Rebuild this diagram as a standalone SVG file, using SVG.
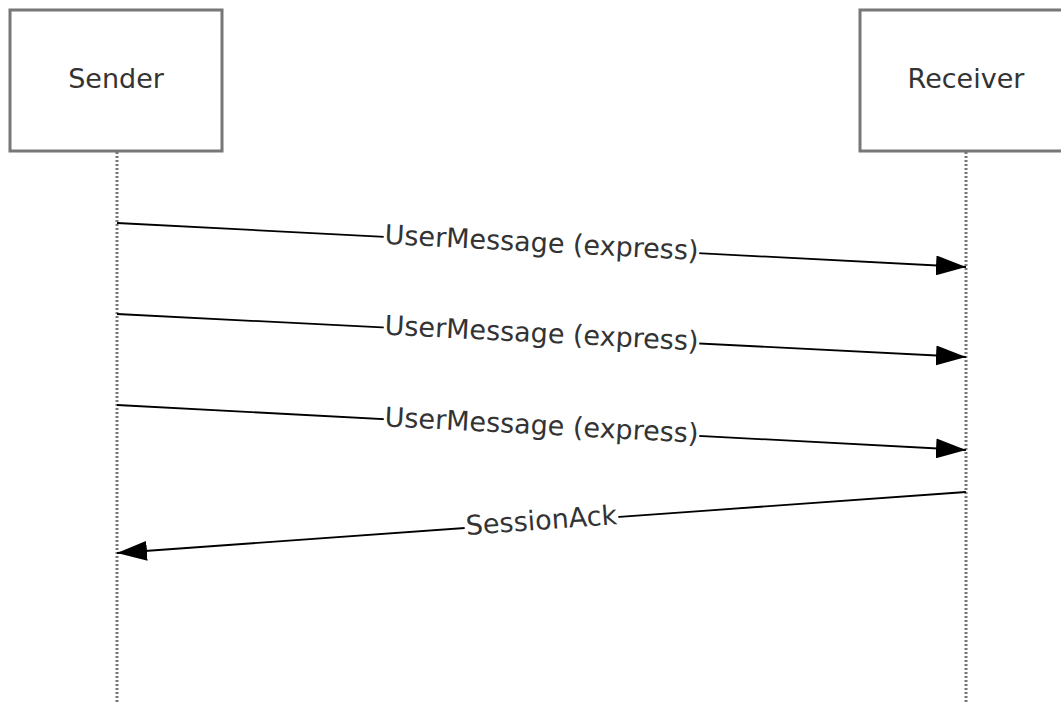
<svg xmlns="http://www.w3.org/2000/svg" width="1061" height="702" viewBox="0 0 1061 702">
<style>
.box{fill:#fff;stroke:#777;stroke-width:3}
.life{stroke:#777;stroke-width:3;stroke-dasharray:2,2;fill:none}
.msg{stroke:#000;stroke-width:1.8;fill:none}
.t{font-family:"DejaVu Sans",Verdana,sans-serif;font-size:27px;fill:#333;text-anchor:middle}
.lbl{font-family:"DejaVu Sans",Verdana,sans-serif;font-size:27px;fill:#333;text-anchor:middle}
.bg{fill:#fff}
</style>
<defs>
<marker id="ah" viewBox="0 0 30 20" refX="30" refY="10" markerWidth="30" markerHeight="20" markerUnits="userSpaceOnUse" orient="auto">
<path d="M0,0 L30,10 L0,20 Z" fill="#000"/>
</marker>
</defs>
<rect width="1061" height="702" fill="#fff"/>
<g id="lifelines">
<line class="life" x1="117" y1="152" x2="117" y2="702"/>
<line class="life" x1="966" y1="152" x2="966" y2="702"/>
</g>
<g id="sender">
<rect class="box" x="10" y="10" width="212" height="141"/>
<text class="t" x="116" y="88">Sender</text>
</g>
<g id="receiver">
<rect class="box" x="860" y="10" width="214" height="141"/>
<text class="t" x="966" y="88">Receiver</text>
</g>
<g id="connectors">
<line class="msg" x1="117" y1="223" x2="966" y2="267" marker-end="url(#ah)"/>
<line class="msg" x1="117" y1="314" x2="966" y2="357" marker-end="url(#ah)"/>
<line class="msg" x1="117" y1="405" x2="966" y2="450" marker-end="url(#ah)"/>
<line class="msg" x1="966" y1="492" x2="117" y2="553" marker-end="url(#ah)"/>
<g transform="translate(541.5,245) rotate(2.97)"><rect class="bg" x="-158" y="-10" width="316" height="20"/><text class="lbl" y="7">UserMessage (express)</text></g>
<g transform="translate(541.5,335.5) rotate(2.9)"><rect class="bg" x="-158" y="-10" width="316" height="20"/><text class="lbl" y="7">UserMessage (express)</text></g>
<g transform="translate(541.5,427.5) rotate(3.03)"><rect class="bg" x="-158" y="-10" width="316" height="20"/><text class="lbl" y="7">UserMessage (express)</text></g>
<g transform="translate(541.5,522.5) rotate(-4.11)"><rect class="bg" x="-77" y="-10" width="154" height="20"/><text class="lbl" y="7">SessionAck</text></g>
</g>
</svg>
